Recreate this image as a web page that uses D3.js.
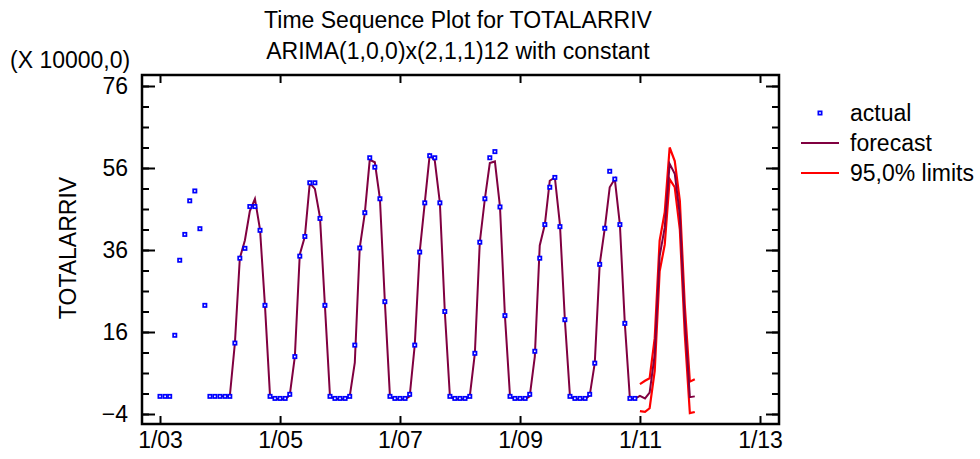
<!DOCTYPE html>
<html><head><meta charset="utf-8">
<script src="https://cdn.jsdelivr.net/npm/d3@7"></script>
<style>
body{margin:0;background:#fff}
svg{display:block}
text{font-family:"Liberation Sans",Arial,Helvetica,sans-serif;fill:#000}
</style>
</head><body>
<svg id="chart" width="980" height="459"></svg>
<script>
// ---- data (units of 10000) ----
const startActual = "2003-01";   // first month of actual series
const startForecast = "2004-01"; // first month of fitted/forecast series
const startLimits = "2011-01";   // first month of 95% limits

const actual = [
  0.3, 0.3, 0.3, 15.2, 33.5, 39.8, 48.0, 50.4, 41.2, 22.5, 0.3, 0.3,
  0.3, 0.3, 0.3, 13.3, 34.0, 36.4, 46.6, 46.6, 40.8, 22.5, 0.3, -0.2,
  -0.2, -0.2, 0.8, 10.0, 34.5, 39.3, 52.4, 52.4, 43.7, 22.5, 0.3, -0.2,
  -0.2, -0.2, 0.3, 12.8, 36.5, 45.1, 58.5, 56.2, 48.5, 23.4, 0.3, -0.2,
  -0.2, -0.2, 0.8, 12.8, 35.5, 47.5, 59.0, 58.5, 47.5, 21.0, 0.3, -0.2,
  -0.2, -0.2, 0.3, 10.8, 37.9, 48.5, 58.5, 60.0, 46.5, 20.0, 0.3, -0.2,
  -0.2, -0.2, 0.8, 11.3, 34.0, 42.2, 51.3, 53.7, 41.7, 19.0, 0.3, -0.2,
  -0.2, -0.2, 0.8, 8.4, 32.5, 41.3, 55.2, 53.3, 42.2, 18.1, -0.2, -0.2
];
const forecast = [
  0.3, 0.3, 0.3, 13.3, 34.0, 38.4, 45.5, 48.5, 41.0, 22.5, 0.3, -0.3,
  -0.4, -0.4, 0.6, 10.0, 34.9, 39.3, 52.4, 50.9, 44.0, 22.5, 0.3, -0.3,
  -0.4, -0.4, 0.3, 8.5, 36.5, 45.0, 58.0, 57.4, 48.5, 23.4, 0.3, -0.4,
  -0.4, -0.4, 0.3, 12.8, 35.5, 47.5, 59.2, 57.8, 47.5, 21.0, 0.3, -0.4,
  -0.4, -0.4, 0.3, 10.8, 37.9, 48.5, 57.2, 57.6, 46.5, 20.0, 0.3, -0.4,
  -0.4, -0.4, 0.3, 10.0, 37.1, 42.2, 52.9, 53.7, 42.2, 19.0, 0.3, -0.4,
  -0.4, -0.4, 0.5, 8.4, 32.5, 41.3, 51.3, 53.3, 42.2, 18.1, -0.3, -0.3,
  0.4, -0.2, 1.2, 10.5, 34.5, 41.5, 57.0, 54.6, 44.5, 19.0, 0.1, 0.3
];
const upper = [3.3, 4.1, 4.7, 14.5, 38.3, 45.2, 61.0, 57.7, 48.0, 22.5, 3.9, 4.5];
const lower = [-3.3, -3.5, -2.6, 6.5, 30.8, 37.3, 53.3, 51.3, 41.0, 15.5, -3.8, -3.5];

const xTickLabels = ["1/03", "1/05", "1/07", "1/09", "1/11", "1/13"];
const yMajorTicks = [-4, 16, 36, 56, 76];
const yMinorTicks = [-4, 1, 6, 11, 16, 21, 26, 31, 36, 41, 46, 51, 56, 61, 66, 71, 76];
const legendLabels = ["actual", "forecast", "95,0% limits"];
const titleLines = ["Time Sequence Plot for TOTALARRIV", "ARIMA(1,0,0)x(2,1,1)12 with constant"];

// ---- layout ----
const svg = d3.select("#chart");
const frame = {left: 142, right: 779, top: 75, bottom: 424};
const FS = 23;
const maroon = "#800040";
const red = "#ff0000";
const blue = "#0000ff";

const parseM = d3.timeParse("%Y-%m");
const monthDates = (start, n) => d3.range(n).map(i => d3.timeMonth.offset(parseM(start), i));
const parseTick = d3.timeParse("%m/%y");
const xTickDates = xTickLabels.map(parseTick);

const x = d3.scaleTime()
  .domain([xTickDates[0], xTickDates[xTickDates.length - 1]])
  .range([160, 760]);
const y = d3.scaleLinear().domain([-4, 76]).range([414, 86]);

// titles
svg.selectAll("text.title").data(titleLines).join("text")
  .attr("class", "title")
  .attr("x", 458).attr("y", (d, i) => 28 + i * 31)
  .attr("text-anchor", "middle").style("font-size", FS + "px")
  .text(d => d);

svg.append("text").attr("x", 10).attr("y", 68).style("font-size", FS + "px").text("(X 10000,0)");

// y axis title
svg.append("text")
  .attr("transform", "translate(76,248) rotate(-90)")
  .attr("text-anchor", "middle").style("font-size", FS + "px")
  .text("TOTALARRIV");

// clip
svg.append("clipPath").attr("id", "clip").append("rect")
  .attr("x", frame.left).attr("y", frame.top)
  .attr("width", frame.right - frame.left).attr("height", frame.bottom - frame.top);

const plot = svg.append("g").attr("clip-path", "url(#clip)");

// series
const aData = monthDates(startActual, actual.length).map((d, i) => ({d, v: actual[i]}));
const fData = monthDates(startForecast, forecast.length).map((d, i) => ({d, v: forecast[i]}));
const uData = monthDates(startLimits, upper.length).map((d, i) => ({d, v: upper[i]}));
const lData = monthDates(startLimits, lower.length).map((d, i) => ({d, v: lower[i]}));

const line = d3.line().x(p => x(p.d)).y(p => y(p.v));

plot.append("path").datum(uData).attr("d", line)
  .attr("fill", "none").attr("stroke", red).attr("stroke-width", 2.2);
plot.append("path").datum(lData).attr("d", line)
  .attr("fill", "none").attr("stroke", red).attr("stroke-width", 2.2);
plot.append("path").datum(fData).attr("d", line)
  .attr("fill", "none").attr("stroke", maroon).attr("stroke-width", 2);

const ms = 3.3;
plot.selectAll("rect.pt").data(aData).join("rect")
  .attr("class", "pt")
  .attr("x", p => x(p.d) - ms / 2).attr("y", p => y(p.v) - ms / 2)
  .attr("width", ms).attr("height", ms)
  .attr("fill", "#fff").attr("stroke", blue).attr("stroke-width", 1.7);

// axes
const fontAxis = g => g.selectAll("text").style("font-size", FS + "px").style("font-family", '"Liberation Sans",Arial,sans-serif').attr("fill", "#000");
const clean = g => { g.select(".domain").remove(); g.selectAll("line").attr("stroke", "#000").attr("stroke-width", 2); };

svg.append("g").attr("transform", `translate(${frame.left},0)`)
  .call(d3.axisLeft(y).tickValues(yMinorTicks).tickSize(-7).tickFormat(""))
  .call(clean);
svg.append("g").attr("transform", `translate(${frame.left},0)`)
  .call(d3.axisLeft(y).tickValues(yMajorTicks).tickSize(-13).tickPadding(14).tickFormat(d3.format("d")))
  .call(clean).call(fontAxis);
svg.append("g").attr("transform", `translate(${frame.right},0)`)
  .call(d3.axisRight(y).tickValues(yMinorTicks).tickSize(-7).tickFormat(""))
  .call(clean);
svg.append("g").attr("transform", `translate(${frame.right},0)`)
  .call(d3.axisRight(y).tickValues(yMajorTicks).tickSize(-13).tickFormat(""))
  .call(clean);
svg.append("g").attr("transform", `translate(0,${frame.bottom})`)
  .call(d3.axisBottom(x).tickValues(xTickDates).tickSize(-8).tickPadding(8).tickFormat((d, i) => xTickLabels[i]))
  .call(clean).call(fontAxis);
svg.append("g").attr("transform", `translate(0,${frame.top})`)
  .call(d3.axisTop(x).tickValues(xTickDates).tickSize(-8).tickFormat(""))
  .call(clean);

// frame
svg.append("rect")
  .attr("x", frame.left).attr("y", frame.top)
  .attr("width", frame.right - frame.left).attr("height", frame.bottom - frame.top)
  .attr("fill", "none").attr("stroke", "#000").attr("stroke-width", 2.5);

// legend
const lg = svg.append("g");
const ly = [113, 143, 173];
lg.append("rect").attr("x", 820 - ms / 2).attr("y", ly[0] - ms / 2).attr("width", ms).attr("height", ms)
  .attr("fill", "#fff").attr("stroke", blue).attr("stroke-width", 1.7);
lg.append("line").attr("x1", 801).attr("x2", 839).attr("y1", ly[1]).attr("y2", ly[1])
  .attr("stroke", maroon).attr("stroke-width", 2);
lg.append("line").attr("x1", 801).attr("x2", 839).attr("y1", ly[2]).attr("y2", ly[2])
  .attr("stroke", red).attr("stroke-width", 2);
lg.selectAll("text").data(legendLabels).join("text")
  .attr("x", 850).attr("y", (d, i) => ly[i] + 8)
  .style("font-size", FS + "px").text(d => d);
</script>
</body></html>
